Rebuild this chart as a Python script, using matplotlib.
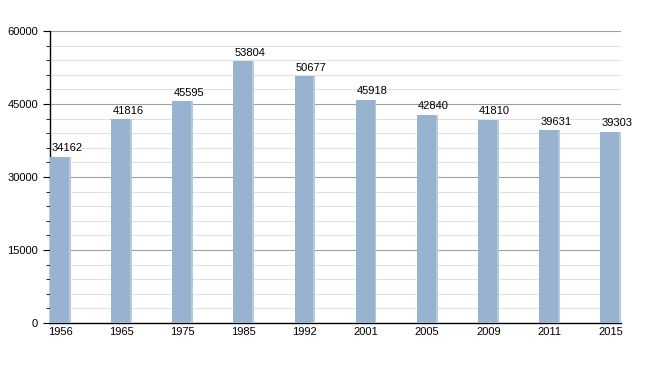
import matplotlib
matplotlib.use("Agg")
import matplotlib.pyplot as plt
from matplotlib.ticker import MultipleLocator

years = ["1956", "1965", "1975", "1985", "1992", "2001", "2005", "2009", "2011", "2015"]
population = [34162, 41816, 45595, 53804, 50677, 45918, 42840, 41810, 39631, 39303]

plt.rcParams['font.family'] = ['Liberation Sans', 'DejaVu Sans']

fig = plt.figure(figsize=(6.5, 3.73), dpi=100)
ax = fig.add_axes([50/650, 50/373, 571/650, 292/373])

x = list(range(len(years)))
w = 0.34
ax.bar(x, population, width=w, color='#98b3cf', zorder=3)
# subtle lighter right edge to mimic gradient
ax.bar([i + w/2 - 0.015 for i in x], population, width=0.03, color='#b6c9dd', zorder=3)

for i, v in zip(x, population):
    ax.text(i - w/2 + 0.02, v + 700, str(v), ha='left', va='bottom', fontsize=8, color='black', zorder=4)

ax.set_ylim(0, 60000)
ax.set_xlim(-w/2, len(years) - 1 + w/2)
ax.yaxis.set_major_locator(MultipleLocator(15000))
ax.yaxis.set_minor_locator(MultipleLocator(3000))
ax.grid(axis='y', which='major', color='#a0a0a0', linewidth=0.8, zorder=0)
ax.grid(axis='y', which='minor', color='#e2e2e2', linewidth=0.8, zorder=0)
ax.set_xticks(x)
ax.set_xticklabels(years)
ax.tick_params(axis='x', length=0, labelsize=8, pad=3)
ax.tick_params(axis='y', which='major', length=5, labelsize=8, direction='out')
ax.tick_params(axis='y', which='minor', length=3, direction='out')
for s in ['top', 'right']:
    ax.spines[s].set_visible(False)
ax.spines['left'].set_linewidth(1)
ax.spines['bottom'].set_linewidth(1)

fig.savefig("out.png", dpi=100)
